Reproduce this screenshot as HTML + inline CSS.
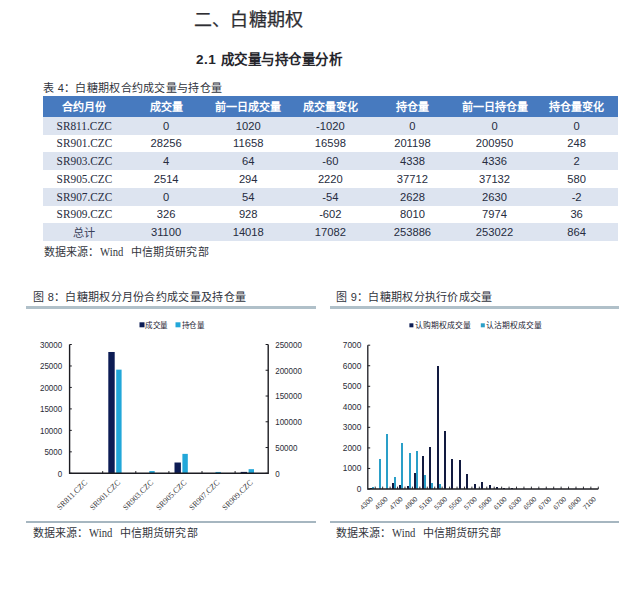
<!DOCTYPE html>
<html lang="zh-CN">
<head>
<meta charset="utf-8">
<title>白糖期权</title>
<style>
html,body{margin:0;padding:0;background:#fff;}
body{width:640px;height:614px;position:relative;overflow:hidden;font-family:"Liberation Sans",sans-serif;color:#2b2f3a;}
.a{position:absolute;white-space:nowrap;line-height:1;}
.h1{left:193.5px;top:11px;font-size:18px;letter-spacing:0.35px;color:#2e2e33;-webkit-text-stroke:0.25px #2e2e33;}
.h2{left:196px;top:53px;font-size:13.5px;letter-spacing:0.5px;font-weight:bold;color:#25252b;}
.cap{font-size:11px;color:#30333c;letter-spacing:0.3px;}
.src{font-size:11px;color:#33363d;letter-spacing:0.1px;}
.serif{font-family:"Liberation Serif",serif;}
.w{font-family:"Liberation Serif",serif;display:inline-block;font-size:12.5px;line-height:11px;width:23.5px;margin:0 7.5px 0 0.5px;transform:scaleX(0.85);transform-origin:0 50%;}
table{position:absolute;left:43px;top:96px;width:574.7px;border-collapse:collapse;table-layout:fixed;}
th{background:#477abf;color:#fff;font-size:11px;font-weight:bold;height:20.6px;padding:0;text-align:center;}
td{font-size:11.2px;padding:0;text-align:center;color:#262c40;}
tr.b td{background:#dde4f0;}
td.s{font-family:"Liberation Serif",serif;font-size:12.4px;line-height:14px;}
td.s span{display:inline-block;transform:scaleX(0.915);}
td.t{color:#39415a;}
.rule{position:absolute;height:3.2px;background:#b0c0c9;}
.r2{height:2.6px;background:#a6b6c0;}
svg{position:absolute;left:0;top:0;}
svg text{font-family:"Liberation Sans",sans-serif;}
</style>
</head>
<body>
<div class="a h1">二、白糖期权</div>
<div class="a h2">2.1 成交量与持仓量分析</div>
<div class="a cap" style="left:43px;top:83px;">表 4：白糖期权合约成交量与持仓量</div>
<table><colgroup><col style="width:82.1px"><col style="width:82.1px"><col style="width:82.1px"><col style="width:82.1px"><col style="width:82.1px"><col style="width:82.1px"><col style="width:82.1px"></colgroup>
<tr><th>合约月份</th><th>成交量</th><th>前一日成交量</th><th>成交量变化</th><th>持仓量</th><th>前一日持仓量</th><th>持仓量变化</th></tr>
<tr class="b" style="height:18px"><td class="s"><span>SR811.CZC</span></td><td>0</td><td>1020</td><td>-1020</td><td>0</td><td>0</td><td>0</td></tr>
<tr style="height:17px"><td class="s"><span>SR901.CZC</span></td><td>28256</td><td>11658</td><td>16598</td><td>201198</td><td>200950</td><td>248</td></tr>
<tr class="b" style="height:18px"><td class="s"><span>SR903.CZC</span></td><td>4</td><td>64</td><td>-60</td><td>4338</td><td>4336</td><td>2</td></tr>
<tr style="height:18px"><td class="s"><span>SR905.CZC</span></td><td>2514</td><td>294</td><td>2220</td><td>37712</td><td>37132</td><td>580</td></tr>
<tr class="b" style="height:18px"><td class="s"><span>SR907.CZC</span></td><td>0</td><td>54</td><td>-54</td><td>2628</td><td>2630</td><td>-2</td></tr>
<tr style="height:17px"><td class="s"><span>SR909.CZC</span></td><td>326</td><td>928</td><td>-602</td><td>8010</td><td>7974</td><td>36</td></tr>
<tr class="b" style="height:18px"><td class="t">总计</td><td>31100</td><td>14018</td><td>17082</td><td>253886</td><td>253022</td><td>864</td></tr>
</table>
<div class="a src" style="left:44px;top:247px;">数据来源：<span class="w">Wind</span>中信期货研究部</div>
<div class="a cap" style="left:33px;top:292px;">图 8：白糖期权分月份合约成交量及持仓量</div>
<div class="a cap" style="left:336px;top:292px;">图 9：白糖期权分执行价成交量</div>
<div class="rule" style="left:25.5px;top:305.5px;width:290px;"></div>
<div class="rule" style="left:329.5px;top:305.5px;width:289.5px;"></div>
<div class="rule r2" style="left:25.5px;top:520.5px;width:290px;"></div>
<div class="rule r2" style="left:329.5px;top:520.5px;width:289.5px;"></div>
<div class="a src" style="left:33px;top:527.5px;">数据来源：<span class="w">Wind</span>中信期货研究部</div>
<div class="a src" style="left:336px;top:527.5px;">数据来源：<span class="w">Wind</span>中信期货研究部</div>
<svg width="640" height="614" viewBox="0 0 640 614">
<rect x="139.5" y="322.3" width="5" height="5" fill="#0c1c54"/>
<text x="145.3" y="328" font-size="7.5" letter-spacing="0.5" fill="#1c2233">成交量</text>
<rect x="175.5" y="322.3" width="5" height="5" fill="#22a7d9"/>
<text x="181.5" y="328" font-size="7.5" letter-spacing="0.5" fill="#1c2233">持仓量</text>
<rect x="108.30" y="351.99" width="6.4" height="121.31" fill="#0c1c54"/>
<rect x="116.20" y="369.64" width="5.4" height="103.66" fill="#22a7d9"/>
<rect x="149.30" y="471.07" width="5.4" height="2.23" fill="#22a7d9"/>
<rect x="174.50" y="462.51" width="6.4" height="10.79" fill="#0c1c54"/>
<rect x="182.40" y="453.87" width="5.4" height="19.43" fill="#22a7d9"/>
<rect x="215.50" y="471.95" width="5.4" height="1.35" fill="#22a7d9"/>
<rect x="240.70" y="471.90" width="6.4" height="1.40" fill="#0c1c54"/>
<rect x="248.60" y="469.17" width="5.4" height="4.13" fill="#22a7d9"/>
<path d="M69.6 344.5V473.3H268.2V344.5" fill="none" stroke="#1c1c22" stroke-width="1.4"/>
<path d="M69.6 473.30H71.8" stroke="#1c1c22" stroke-width="1"/>
<text transform="translate(62.2 476.70) scale(.93 1)" font-size="8.6" text-anchor="end" fill="#2a2c36">0</text>
<path d="M69.6 451.83H71.8" stroke="#1c1c22" stroke-width="1"/>
<text transform="translate(62.2 455.23) scale(.93 1)" font-size="8.6" text-anchor="end" fill="#2a2c36">5000</text>
<path d="M69.6 430.37H71.8" stroke="#1c1c22" stroke-width="1"/>
<text transform="translate(62.2 433.77) scale(.93 1)" font-size="8.6" text-anchor="end" fill="#2a2c36">10000</text>
<path d="M69.6 408.90H71.8" stroke="#1c1c22" stroke-width="1"/>
<text transform="translate(62.2 412.30) scale(.93 1)" font-size="8.6" text-anchor="end" fill="#2a2c36">15000</text>
<path d="M69.6 387.43H71.8" stroke="#1c1c22" stroke-width="1"/>
<text transform="translate(62.2 390.83) scale(.93 1)" font-size="8.6" text-anchor="end" fill="#2a2c36">20000</text>
<path d="M69.6 365.97H71.8" stroke="#1c1c22" stroke-width="1"/>
<text transform="translate(62.2 369.37) scale(.93 1)" font-size="8.6" text-anchor="end" fill="#2a2c36">25000</text>
<path d="M69.6 344.50H71.8" stroke="#1c1c22" stroke-width="1"/>
<text transform="translate(62.2 347.90) scale(.93 1)" font-size="8.6" text-anchor="end" fill="#2a2c36">30000</text>
<path d="M265.6 473.30H268.2" stroke="#1c1c22" stroke-width="1"/>
<text transform="translate(275.2 476.70) scale(.93 1)" font-size="8.6" text-anchor="start" fill="#2a2c36">0</text>
<path d="M265.6 447.54H268.2" stroke="#1c1c22" stroke-width="1"/>
<text transform="translate(275.2 450.94) scale(.93 1)" font-size="8.6" text-anchor="start" fill="#2a2c36">50000</text>
<path d="M265.6 421.78H268.2" stroke="#1c1c22" stroke-width="1"/>
<text transform="translate(275.2 425.18) scale(.93 1)" font-size="8.6" text-anchor="start" fill="#2a2c36">100000</text>
<path d="M265.6 396.02H268.2" stroke="#1c1c22" stroke-width="1"/>
<text transform="translate(275.2 399.42) scale(.93 1)" font-size="8.6" text-anchor="start" fill="#2a2c36">150000</text>
<path d="M265.6 370.26H268.2" stroke="#1c1c22" stroke-width="1"/>
<text transform="translate(275.2 373.66) scale(.93 1)" font-size="8.6" text-anchor="start" fill="#2a2c36">200000</text>
<path d="M265.6 344.50H268.2" stroke="#1c1c22" stroke-width="1"/>
<text transform="translate(275.2 347.90) scale(.93 1)" font-size="8.6" text-anchor="start" fill="#2a2c36">250000</text>
<path d="M102.70 473.3V471.1" stroke="#1c1c22" stroke-width="1"/>
<path d="M135.80 473.3V471.1" stroke="#1c1c22" stroke-width="1"/>
<path d="M168.90 473.3V471.1" stroke="#1c1c22" stroke-width="1"/>
<path d="M202.00 473.3V471.1" stroke="#1c1c22" stroke-width="1"/>
<path d="M235.10 473.3V471.1" stroke="#1c1c22" stroke-width="1"/>
<text transform="translate(87.65 482.9) rotate(-45)" font-size="8" text-anchor="end" fill="#3a3a40" style="font-family:'Liberation Serif',serif">SR811.CZC</text>
<text transform="translate(120.75 482.9) rotate(-45)" font-size="8" text-anchor="end" fill="#3a3a40" style="font-family:'Liberation Serif',serif">SR901.CZC</text>
<text transform="translate(153.85 482.9) rotate(-45)" font-size="8" text-anchor="end" fill="#3a3a40" style="font-family:'Liberation Serif',serif">SR903.CZC</text>
<text transform="translate(186.95 482.9) rotate(-45)" font-size="8" text-anchor="end" fill="#3a3a40" style="font-family:'Liberation Serif',serif">SR905.CZC</text>
<text transform="translate(220.05 482.9) rotate(-45)" font-size="8" text-anchor="end" fill="#3a3a40" style="font-family:'Liberation Serif',serif">SR907.CZC</text>
<text transform="translate(253.15 482.9) rotate(-45)" font-size="8" text-anchor="end" fill="#3a3a40" style="font-family:'Liberation Serif',serif">SR909.CZC</text>
<rect x="409.4" y="323.3" width="4" height="4" fill="#0c1c54"/>
<text x="414.8" y="328.2" font-size="7.8" fill="#1c2233">认购期权成交量</text>
<rect x="480.8" y="323.3" width="4" height="4" fill="#2a9fc8"/>
<text x="485.6" y="328.2" font-size="7.8" fill="#1c2233">认沽期权成交量</text>
<g shape-rendering="crispEdges">
<rect x="370" y="487.77" width="2" height="1.23" fill="#121a40"/>
<rect x="372" y="487.36" width="2" height="1.64" fill="#2a9fc8"/>
<rect x="379" y="459.15" width="2" height="29.85" fill="#2a9fc8"/>
<rect x="386" y="433.82" width="2" height="55.18" fill="#2a9fc8"/>
<rect x="392" y="482.51" width="2" height="6.49" fill="#121a40"/>
<rect x="394" y="476.88" width="2" height="12.12" fill="#2a9fc8"/>
<rect x="399" y="484.89" width="2" height="4.11" fill="#121a40"/>
<rect x="401" y="442.78" width="2" height="46.22" fill="#2a9fc8"/>
<rect x="407" y="485.92" width="2" height="3.08" fill="#121a40"/>
<rect x="409" y="452.93" width="2" height="36.07" fill="#2a9fc8"/>
<rect x="414" y="473.14" width="2" height="15.86" fill="#121a40"/>
<rect x="416" y="450.67" width="2" height="38.33" fill="#2a9fc8"/>
<rect x="422" y="456.30" width="2" height="32.70" fill="#121a40"/>
<rect x="424" y="475.03" width="2" height="13.97" fill="#2a9fc8"/>
<rect x="429" y="446.56" width="2" height="42.44" fill="#121a40"/>
<rect x="431" y="483.45" width="2" height="5.55" fill="#2a9fc8"/>
<rect x="437" y="366.15" width="2" height="122.85" fill="#121a40"/>
<rect x="439" y="483.66" width="2" height="5.34" fill="#2a9fc8"/>
<rect x="444" y="431.03" width="2" height="57.97" fill="#121a40"/>
<rect x="451" y="458.53" width="2" height="30.47" fill="#121a40"/>
<rect x="459" y="460.03" width="2" height="28.97" fill="#121a40"/>
<rect x="466" y="473.53" width="2" height="15.47" fill="#121a40"/>
<rect x="474" y="484.40" width="2" height="4.60" fill="#121a40"/>
<rect x="481" y="482.22" width="2" height="6.78" fill="#121a40"/>
<rect x="489" y="485.30" width="2" height="3.70" fill="#121a40"/>
<rect x="496" y="487.36" width="2" height="1.64" fill="#121a40"/>
<rect x="503" y="488.18" width="2" height="0.82" fill="#121a40"/>
<rect x="511" y="488.38" width="2" height="0.62" fill="#121a40"/>
<rect x="518" y="488.59" width="2" height="0.41" fill="#121a40"/>
<rect x="526" y="488.59" width="2" height="0.41" fill="#121a40"/>
</g>
<path d="M367.8 345.2V489.0H598.3" fill="none" stroke="#1c1c22" stroke-width="1.3"/>
<path d="M367.8 489.00H370.2" stroke="#1c1c22" stroke-width="1"/>
<text x="361.3" y="492.00" font-size="8.3" text-anchor="end" fill="#2a2c36">0</text>
<path d="M367.8 468.46H370.2" stroke="#1c1c22" stroke-width="1"/>
<text x="361.3" y="471.46" font-size="8.3" text-anchor="end" fill="#2a2c36">1000</text>
<path d="M367.8 447.91H370.2" stroke="#1c1c22" stroke-width="1"/>
<text x="361.3" y="450.91" font-size="8.3" text-anchor="end" fill="#2a2c36">2000</text>
<path d="M367.8 427.37H370.2" stroke="#1c1c22" stroke-width="1"/>
<text x="361.3" y="430.37" font-size="8.3" text-anchor="end" fill="#2a2c36">3000</text>
<path d="M367.8 406.83H370.2" stroke="#1c1c22" stroke-width="1"/>
<text x="361.3" y="409.83" font-size="8.3" text-anchor="end" fill="#2a2c36">4000</text>
<path d="M367.8 386.29H370.2" stroke="#1c1c22" stroke-width="1"/>
<text x="361.3" y="389.29" font-size="8.3" text-anchor="end" fill="#2a2c36">5000</text>
<path d="M367.8 365.74H370.2" stroke="#1c1c22" stroke-width="1"/>
<text x="361.3" y="368.74" font-size="8.3" text-anchor="end" fill="#2a2c36">6000</text>
<path d="M367.8 345.20H370.2" stroke="#1c1c22" stroke-width="1"/>
<text x="361.3" y="348.20" font-size="8.3" text-anchor="end" fill="#2a2c36">7000</text>
<path d="M375.24 489.0V486.6" stroke="#1c1c22" stroke-width="0.9"/>
<path d="M382.67 489.0V486.6" stroke="#1c1c22" stroke-width="0.9"/>
<path d="M390.11 489.0V486.6" stroke="#1c1c22" stroke-width="0.9"/>
<path d="M397.54 489.0V486.6" stroke="#1c1c22" stroke-width="0.9"/>
<path d="M404.98 489.0V486.6" stroke="#1c1c22" stroke-width="0.9"/>
<path d="M412.41 489.0V486.6" stroke="#1c1c22" stroke-width="0.9"/>
<path d="M419.85 489.0V486.6" stroke="#1c1c22" stroke-width="0.9"/>
<path d="M427.28 489.0V486.6" stroke="#1c1c22" stroke-width="0.9"/>
<path d="M434.72 489.0V486.6" stroke="#1c1c22" stroke-width="0.9"/>
<path d="M442.15 489.0V486.6" stroke="#1c1c22" stroke-width="0.9"/>
<path d="M449.59 489.0V486.6" stroke="#1c1c22" stroke-width="0.9"/>
<path d="M457.03 489.0V486.6" stroke="#1c1c22" stroke-width="0.9"/>
<path d="M464.46 489.0V486.6" stroke="#1c1c22" stroke-width="0.9"/>
<path d="M471.90 489.0V486.6" stroke="#1c1c22" stroke-width="0.9"/>
<path d="M479.33 489.0V486.6" stroke="#1c1c22" stroke-width="0.9"/>
<path d="M486.77 489.0V486.6" stroke="#1c1c22" stroke-width="0.9"/>
<path d="M494.20 489.0V486.6" stroke="#1c1c22" stroke-width="0.9"/>
<path d="M501.64 489.0V486.6" stroke="#1c1c22" stroke-width="0.9"/>
<path d="M509.07 489.0V486.6" stroke="#1c1c22" stroke-width="0.9"/>
<path d="M516.51 489.0V486.6" stroke="#1c1c22" stroke-width="0.9"/>
<path d="M523.95 489.0V486.6" stroke="#1c1c22" stroke-width="0.9"/>
<path d="M531.38 489.0V486.6" stroke="#1c1c22" stroke-width="0.9"/>
<path d="M538.82 489.0V486.6" stroke="#1c1c22" stroke-width="0.9"/>
<path d="M546.25 489.0V486.6" stroke="#1c1c22" stroke-width="0.9"/>
<path d="M553.69 489.0V486.6" stroke="#1c1c22" stroke-width="0.9"/>
<path d="M561.12 489.0V486.6" stroke="#1c1c22" stroke-width="0.9"/>
<path d="M568.56 489.0V486.6" stroke="#1c1c22" stroke-width="0.9"/>
<path d="M575.99 489.0V486.6" stroke="#1c1c22" stroke-width="0.9"/>
<path d="M583.43 489.0V486.6" stroke="#1c1c22" stroke-width="0.9"/>
<path d="M590.86 489.0V486.6" stroke="#1c1c22" stroke-width="0.9"/>
<path d="M598.30 489.0V486.6" stroke="#1c1c22" stroke-width="0.9"/>
<text transform="translate(373.32 499.5) rotate(-45)" font-size="6.8" text-anchor="end" fill="#3a3a3e">4300</text>
<text transform="translate(388.19 499.5) rotate(-45)" font-size="6.8" text-anchor="end" fill="#3a3a3e">4500</text>
<text transform="translate(403.06 499.5) rotate(-45)" font-size="6.8" text-anchor="end" fill="#3a3a3e">4700</text>
<text transform="translate(417.93 499.5) rotate(-45)" font-size="6.8" text-anchor="end" fill="#3a3a3e">4900</text>
<text transform="translate(432.80 499.5) rotate(-45)" font-size="6.8" text-anchor="end" fill="#3a3a3e">5100</text>
<text transform="translate(447.67 499.5) rotate(-45)" font-size="6.8" text-anchor="end" fill="#3a3a3e">5300</text>
<text transform="translate(462.54 499.5) rotate(-45)" font-size="6.8" text-anchor="end" fill="#3a3a3e">5500</text>
<text transform="translate(477.41 499.5) rotate(-45)" font-size="6.8" text-anchor="end" fill="#3a3a3e">5700</text>
<text transform="translate(492.29 499.5) rotate(-45)" font-size="6.8" text-anchor="end" fill="#3a3a3e">5900</text>
<text transform="translate(507.16 499.5) rotate(-45)" font-size="6.8" text-anchor="end" fill="#3a3a3e">6100</text>
<text transform="translate(522.03 499.5) rotate(-45)" font-size="6.8" text-anchor="end" fill="#3a3a3e">6300</text>
<text transform="translate(536.90 499.5) rotate(-45)" font-size="6.8" text-anchor="end" fill="#3a3a3e">6500</text>
<text transform="translate(551.77 499.5) rotate(-45)" font-size="6.8" text-anchor="end" fill="#3a3a3e">6700</text>
<text transform="translate(566.64 499.5) rotate(-45)" font-size="6.8" text-anchor="end" fill="#3a3a3e">6700</text>
<text transform="translate(581.51 499.5) rotate(-45)" font-size="6.8" text-anchor="end" fill="#3a3a3e">6900</text>
<text transform="translate(596.38 499.5) rotate(-45)" font-size="6.8" text-anchor="end" fill="#3a3a3e">7100</text>
</svg>
</body>
</html>
